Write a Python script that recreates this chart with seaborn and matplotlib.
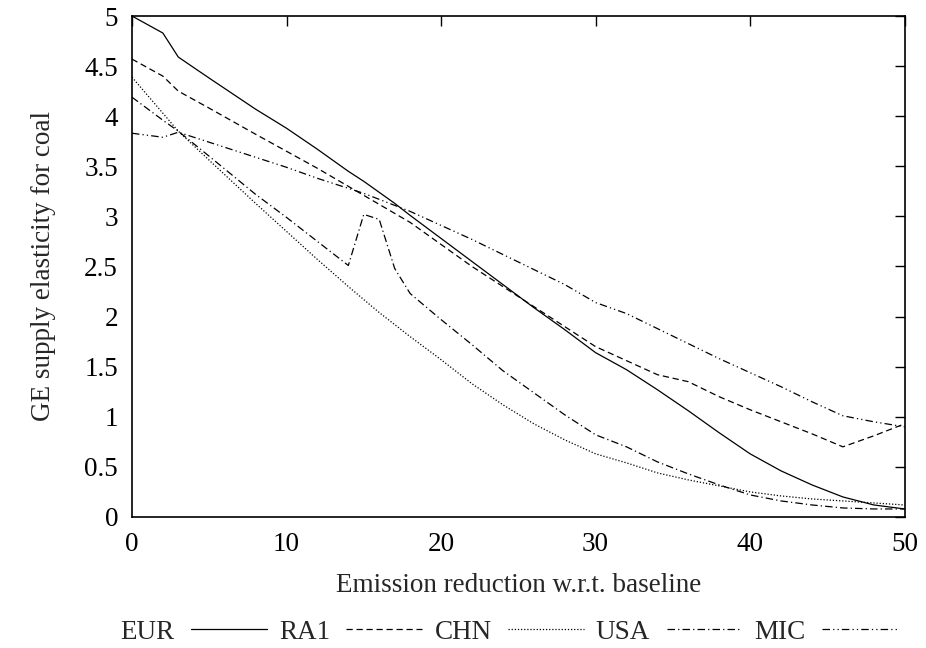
import matplotlib
matplotlib.use('Agg')
import matplotlib.pyplot as plt
import seaborn as sns
import pandas as pd

# emission reduction (%) where the elasticities were read
reduction = [0, 2, 3, 5, 8, 10, 12, 14, 15, 16, 17, 18, 20, 22, 24, 26,
             28, 30, 32, 34, 36, 38, 40, 42, 44, 46, 48, 50]

eur = [5.00, 4.83, 4.59, 4.38, 4.07, 3.88, 3.67, 3.45, 3.35, 3.24, 3.13, 3.01,
       2.78, 2.55, 2.32, 2.09, 1.87, 1.64, 1.47, 1.27, 1.06, 0.84, 0.63, 0.46,
       0.32, 0.20, 0.12, 0.08]
ra1 = [4.57, 4.40, 4.25, 4.08, 3.82, 3.65, 3.48, 3.30, 3.21, 3.12, 3.03, 2.94,
       2.72, 2.50, 2.30, 2.10, 1.90, 1.70, 1.56, 1.42, 1.35, 1.20, 1.07, 0.95,
       0.83, 0.70, 0.81, 0.93]
chn = [4.39, 4.03, 3.85, 3.56, 3.13, 2.85, 2.57, 2.30, 2.17, 2.04, 1.92, 1.80,
       1.57, 1.33, 1.12, 0.93, 0.77, 0.63, 0.54, 0.44, 0.37, 0.31, 0.25, 0.21,
       0.18, 0.16, 0.14, 0.12]
usa = [4.19, 3.96, 3.85, 3.60, 3.22, 2.99, 2.75, 2.51, 3.02, 2.97, 2.48, 2.23,
       1.97, 1.72, 1.46, 1.24, 1.02, 0.82, 0.70, 0.55, 0.43, 0.32, 0.22, 0.16,
       0.12, 0.09, 0.08, 0.08]
mic = [3.83, 3.79, 3.84, 3.74, 3.59, 3.49, 3.38, 3.28, 3.23, 3.17, 3.11, 3.05,
       2.91, 2.77, 2.62, 2.47, 2.32, 2.14, 2.03, 1.88, 1.73, 1.58, 1.44, 1.30,
       1.15, 1.01, 0.95, 0.90]

regions = ['EUR', 'RA1', 'CHN', 'USA', 'MIC']
series = [eur, ra1, chn, usa, mic]
x_ticks = [0, 10, 20, 30, 40, 50]
y_ticks = [0, 0.5, 1, 1.5, 2, 2.5, 3, 3.5, 4, 4.5, 5]
y_labels = ['0', '0.5', '1', '1.5', '2', '2.5', '3', '3.5', '4', '4.5', '5']

# gnuplot-like line types
styles = ['-', (0, (5, 3)), (0, (1, 1.5)), (0, (6, 2.5, 1, 2.5)),
          (0, (6, 2.5, 1, 2.5, 1, 2.5))]

FS = 19.5

sns.set_theme(style='white')
plt.rcParams['font.family'] = ['Liberation Serif', 'DejaVu Serif']
plt.rcParams['font.size'] = FS

fig = plt.figure(figsize=(9.26, 6.48), dpi=100)
ax = fig.add_axes([0.1425, 0.2022, 0.8345, 0.7731])

for name, vals, ls in zip(regions, series, styles):
    df = pd.DataFrame({'reduction': reduction, 'elasticity': vals})
    sns.lineplot(data=df, x='reduction', y='elasticity', ax=ax, color='black',
                 linewidth=0.9, linestyle=ls, label=name)

ax.set_xlim(0, 50)
ax.set_ylim(0, 5)
ax.set_xticks(x_ticks)
ax.set_xticklabels([str(t) for t in x_ticks])
ax.set_yticks(y_ticks)
ax.set_yticklabels(y_labels)
ax.tick_params(direction='in', length=7, width=1, top=True, right=True,
               labelsize=FS, colors='black')
ax.tick_params(axis='x', pad=11)
ax.tick_params(axis='y', pad=10)
for sp in ax.spines.values():
    sp.set_color('black')
    sp.set_linewidth(1.2)
    sp.set_visible(True)

ax.set_xlabel('Emission reduction w.r.t. baseline', fontsize=FS, labelpad=11)
ax.set_ylabel('GE supply elasticity for coal', fontsize=FS, labelpad=20)

handles, labels = ax.get_legend_handles_labels()
ax.get_legend().remove()
fig.legend(handles, labels, loc='center', bbox_to_anchor=(0.55, 0.024),
           ncol=5, frameon=False, markerfirst=False, handlelength=2.8,
           columnspacing=0.45, handletextpad=0.6, fontsize=FS,
           borderaxespad=0, borderpad=0)

fig.savefig('out.png', dpi=100, facecolor='white')
